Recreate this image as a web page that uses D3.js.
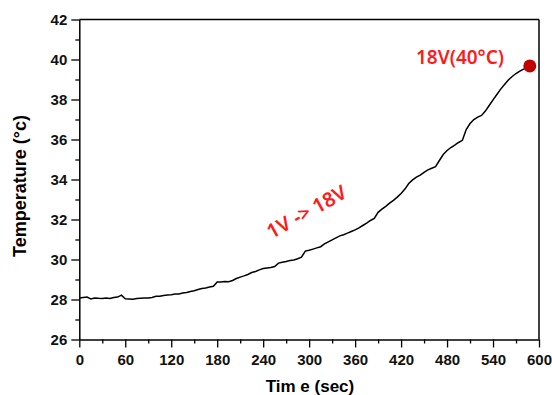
<!DOCTYPE html>
<html><head><meta charset="utf-8">
<script src="https://cdn.jsdelivr.net/npm/d3@7"></script>
<style>body{margin:0;background:#fff}svg{display:block}</style>
</head><body>
<svg id="c" width="552" height="395"></svg>
<script>
const times = [0,5,10,15,20,25,30,35,40,45,50,55,60,65,70,75,80,85,90,95,100,105,110,115,120,125,130,135,140,145,150,155,160,165,170,175,180,185,190,195,200,205,210,215,220,225,230,235,240,245,250,255,260,265,270,275,280,285,290,295,300,305,310,315,320,325,330,335,340,345,350,355,360,365,370,375,380,385,390,395,400,405,410,415,420,425,430,435,440,445,450,455,460,465,470,475,480,485,490,495,500,505,510,515,520,525,530,535,540,545,550,555,560,565,570,575,580,585];
const temps = [28.08,28.10,28.12,28.03,28.08,28.06,28.05,28.07,28.05,28.10,28.12,28.22,28.04,28.03,28.01,28.05,28.06,28.07,28.08,28.10,28.16,28.16,28.20,28.22,28.24,28.27,28.28,28.33,28.35,28.40,28.44,28.50,28.55,28.58,28.62,28.66,28.88,28.88,28.90,28.89,28.95,29.05,29.12,29.18,29.25,29.35,29.40,29.48,29.55,29.58,29.60,29.65,29.82,29.86,29.90,29.95,29.98,30.04,30.12,30.42,30.46,30.52,30.58,30.64,30.78,30.88,30.98,31.08,31.18,31.24,31.32,31.40,31.48,31.58,31.70,31.82,31.95,32.05,32.36,32.52,32.66,32.82,32.96,33.12,33.30,33.52,33.80,33.98,34.12,34.22,34.36,34.48,34.56,34.64,34.95,35.25,35.45,35.60,35.72,35.85,35.96,36.50,36.80,37.00,37.12,37.20,37.42,37.70,37.98,38.25,38.52,38.75,38.98,39.15,39.30,39.42,39.52,39.62];
const xTicks = [0,60,120,180,240,300,360,420,480,540,600];
const yTicks = [26,28,30,32,34,36,38,40,42];
const endPoint = {t:588, T:39.68};
const labels = {end:"18V(40°C)", ramp:"1V -> 18V", x:"Tim e (sec)", y:"Temperature (°c)"};

const svg = d3.select("#c");
const m = {l:79.3, r:539, t:19.5, b:339.5};
const x = d3.scaleLinear().domain([0,600]).range([m.l,m.r]);
const y = d3.scaleLinear().domain([26,42]).range([m.b,m.t]);
const tickFont = "'Liberation Sans', Arial, sans-serif";

// minor ticks
const gx = svg.append("g").attr("transform",`translate(0,${m.b})`);
gx.call(d3.axisBottom(x).tickValues(d3.range(30,600,60)).tickSize(4).tickFormat(""));
gx.call(g=>g.select(".domain").remove());
const gx2 = svg.append("g").attr("transform",`translate(0,${m.b})`)
  .call(d3.axisBottom(x).tickValues(xTicks).tickSize(8).tickSizeOuter(0).tickPadding(4));
const gy = svg.append("g").attr("transform",`translate(${m.l},0)`);
gy.call(d3.axisLeft(y).tickValues(d3.range(27,42,2)).tickSize(4).tickFormat(""));
gy.call(g=>g.select(".domain").remove());
const gy2 = svg.append("g").attr("transform",`translate(${m.l},0)`)
  .call(d3.axisLeft(y).tickValues(yTicks).tickSize(8).tickSizeOuter(0).tickPadding(4));
svg.selectAll(".tick line").attr("stroke","#000").attr("stroke-width",1.3);
svg.selectAll(".domain").attr("stroke","#000").attr("stroke-width",1.5);
svg.selectAll(".tick text").attr("font-family",tickFont).attr("font-size",15).attr("font-weight","bold").attr("fill","#111");
gx2.selectAll(".tick text").attr("dy","0.9em");

// top and right frame
svg.append("line").attr("x1",m.l).attr("x2",m.r).attr("y1",m.t).attr("y2",m.t).attr("stroke","#000").attr("stroke-width",1.5);
svg.append("line").attr("x1",m.r).attr("x2",m.r).attr("y1",m.t).attr("y2",m.b).attr("stroke","#000").attr("stroke-width",1.5);

// line
const data = times.map((t,i)=>({t,T:temps[i]}));
svg.append("path").datum(data)
  .attr("d", d3.line().x(d=>x(d.t)).y(d=>y(d.T)))
  .attr("fill","none").attr("stroke","#000").attr("stroke-width",1.5);

svg.append("circle").attr("cx",x(endPoint.t)).attr("cy",y(endPoint.T)).attr("r",6.5).attr("fill","#c00000");

// annotations
const annFont = "'Noto Sans', 'Open Sans', sans-serif";
svg.append("text").attr("x",460).attr("y",64).attr("text-anchor","middle")
  .attr("font-family",annFont).attr("font-size",19).attr("font-weight",600).attr("fill","#ff1a1a").text(labels.end);
svg.append("text").attr("transform","translate(310,218) rotate(-29)").attr("text-anchor","middle")
  .attr("font-family",annFont).attr("font-size",20).attr("font-weight",600).attr("fill","#ff1a1a").text(labels.ramp);

// axis titles
svg.append("text").attr("x",310).attr("y",392).attr("text-anchor","middle")
  .attr("font-family",tickFont).attr("font-size",17).attr("font-weight","bold").attr("fill","#000").text(labels.x);
svg.append("text").attr("transform","translate(26,186) rotate(-90)").attr("text-anchor","middle")
  .attr("font-family",tickFont).attr("font-size",18).attr("font-weight","bold").attr("fill","#000").text(labels.y);
</script>
</body></html>
